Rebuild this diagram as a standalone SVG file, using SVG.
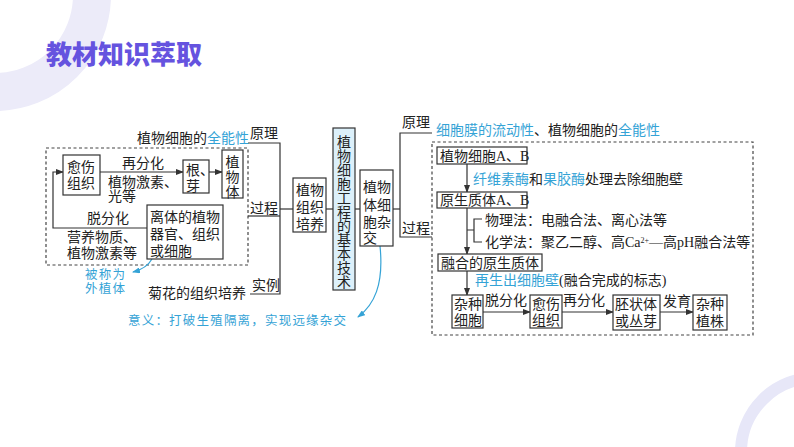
<svg xmlns="http://www.w3.org/2000/svg" width="794" height="447" viewBox="0 0 794 447">
<style>
text{font-family:"Liberation Serif","Noto Sans CJK SC",serif;font-size:14px;fill:#222}
.c{fill:#35a3d6}
.t{font-family:"Noto Sans CJK SC",sans-serif;font-size:26px;font-weight:900;fill:#6553df}
.n{fill:#fff;stroke:#333;stroke-width:1.2}
.ln{fill:none;stroke:#333;stroke-width:1.2}
.ds{fill:none;stroke:#444;stroke-width:1.2;stroke-dasharray:3 2.5}
.cy{fill:none;stroke:#35a3d6;stroke-width:1.2}
.sm{font-size:12.5px;letter-spacing:1.2px}
</style>
<defs>
<marker id="a" markerWidth="8" markerHeight="6" refX="7" refY="3" orient="auto" markerUnits="userSpaceOnUse"><path d="M0,0 L8,3 L0,6 Z" fill="#333"/></marker>
<marker id="ac" markerWidth="8" markerHeight="6" refX="7" refY="3" orient="auto" markerUnits="userSpaceOnUse"><path d="M0,0 L8,3 L0,6 Z" fill="#35a3d6"/></marker>
</defs>
<rect width="794" height="447" fill="#fff"/>
<circle cx="-5" cy="-5" r="97" fill="none" stroke="#ecebf9" stroke-width="38"/>
<circle cx="815" cy="452" r="74" fill="none" stroke="#e7e7f8" stroke-width="12"/>
<text class="t" x="46" y="64">教材知识萃取</text>

<g id="connectors">
<rect class="ds" x="46" y="148" width="202" height="117"/>
<rect class="ds" x="432" y="142" width="321" height="193"/>
<path class="ln" d="M248,143 H280 V294 H250"/>
<path class="ln" d="M248,216 H280"/>
<path class="ln" d="M280,209 H293"/>
<path class="ln" d="M326,209 H334"/>
<path class="ln" d="M355,209 H360"/>
<path class="ln" d="M393,209 H400"/>
<path class="ln" d="M432,133 H400 V237 H432"/>
<path class="ln" d="M100,172 H183" marker-end="url(#a)"/>
<path class="ln" d="M209,172 H222" marker-end="url(#a)"/>
<path class="ln" d="M147,228 H53 V172 H63" marker-end="url(#a)"/>
<path class="ln" d="M467,164 V192" marker-end="url(#a)"/>
<path class="ln" d="M467,208 V254" marker-end="url(#a)"/>
<path class="ln" d="M467,230 H474 M482,219 H474 V242 H482"/>
<path class="ln" d="M467,271 V295" marker-end="url(#a)"/>
<path class="ln" d="M483,312 H530" marker-end="url(#a)"/>
<path class="ln" d="M562,312 H613" marker-end="url(#a)"/>
<path class="ln" d="M660,312 H693" marker-end="url(#a)"/>
<path class="cy" d="M380,246 C384,285 374,305 358,317" marker-end="url(#ac)"/>
<path class="cy" d="M152,259 C148,266 141,270 133,272" marker-end="url(#ac)"/>
</g>

<g id="labels-left">
<text x="137" y="143">植物细胞的<tspan class="c">全能性</tspan></text>
<text x="250" y="138">原理</text>
<text x="250" y="213">过程</text>
<text x="252" y="290">实例</text>
<text x="148" y="298">菊花的组织培养</text>
<text x="108" y="168" dx="14">再分化</text>
<text x="108" y="187">植物激素、</text>
<text x="108" y="201">光等</text>
<text x="87" y="223">脱分化</text>
<text x="67" y="242">营养物质、</text>
<text x="67" y="258">植物激素等</text>
<text class="c sm" x="85" y="279">被称为</text>
<text class="c sm" x="85" y="293">外植体</text>
<text class="c sm" x="128" y="325">意义：打破生殖隔离，实现远缘杂交</text>
</g>

<g id="n-yushang1"><rect class="n" x="63" y="155" width="37" height="40"/><text x="67" y="172">愈伤</text><text x="67" y="188">组织</text></g>
<g id="n-genya"><rect class="n" x="183" y="160" width="26" height="33"/><text x="186" y="175">根、</text><text x="186" y="191">芽</text></g>
<g id="n-zhiwuti"><rect class="n" x="222" y="150" width="21" height="48"/><text x="232.5" y="167" text-anchor="middle">植</text><text x="232.5" y="182" text-anchor="middle">物</text><text x="232.5" y="197" text-anchor="middle">体</text></g>
<g id="n-liti"><rect class="n" x="147" y="205" width="76" height="54"/><text x="150" y="222">离体的植物</text><text x="150" y="239">器官、组织</text><text x="150" y="256">或细胞</text></g>
<g id="n-zuzhipeiyang"><rect class="n" x="293" y="178" width="33" height="54"/><text x="296" y="195">植物</text><text x="296" y="212">组织</text><text x="296" y="229">培养</text></g>
<g id="n-center"><rect x="333" y="128" width="22" height="162" fill="#dcf0fa" stroke="#333" stroke-width="1.2"/>
<text x="344" y="147" text-anchor="middle"><tspan x="344">植</tspan><tspan x="344" dy="14">物</tspan><tspan x="344" dy="14">细</tspan><tspan x="344" dy="14">胞</tspan><tspan x="344" dy="14">工</tspan><tspan x="344" dy="14">程</tspan><tspan x="344" dy="14">的</tspan><tspan x="344" dy="14">基</tspan><tspan x="344" dy="14">本</tspan><tspan x="344" dy="14">技</tspan><tspan x="344" dy="14">术</tspan></text></g>
<g id="n-zajiao"><rect class="n" x="360" y="170" width="33" height="76"/><text x="363" y="192">植物</text><text x="363" y="210">体细</text><text x="363" y="227">胞杂</text><text x="363" y="243">交</text></g>

<g id="labels-right">
<text x="402" y="127">原理</text>
<text x="402" y="233">过程</text>
<text x="436" y="135"><tspan class="c">细胞膜的流动性</tspan>、植物细胞的<tspan class="c">全能性</tspan></text>
<text x="473" y="184"><tspan class="c">纤维素酶</tspan>和<tspan class="c">果胶酶</tspan>处理去除细胞壁</text>
<text x="485" y="225">物理法：电融合法、离心法等</text>
<text x="485" y="247">化学法：聚乙二醇、高Ca<tspan font-size="8" baseline-shift="super">2+</tspan>—高pH融合法等</text>
<text x="475" y="285"><tspan class="c">再生出细胞壁</tspan>(融合完成的标志)</text>
<text x="485" y="305">脱分化</text>
<text x="563" y="305">再分化</text>
<text x="663" y="306">发育</text>
</g>

<g id="n-cellAB"><rect class="n" x="437" y="147" width="90" height="17"/><text x="440" y="161">植物细胞A、B</text></g>
<g id="n-protoAB"><rect class="n" x="437" y="192" width="90" height="16"/><text x="440" y="205">原生质体A、B</text></g>
<g id="n-fused"><rect class="n" x="438" y="254" width="104" height="17"/><text x="441" y="268">融合的原生质体</text></g>
<g id="n-hybridcell"><rect class="n" x="452" y="295" width="31" height="33"/><text x="454" y="309">杂种</text><text x="454" y="325">细胞</text></g>
<g id="n-yushang2"><rect class="n" x="530" y="295" width="32" height="33"/><text x="532" y="309">愈伤</text><text x="532" y="325">组织</text></g>
<g id="n-peizhuang"><rect class="n" x="613" y="295" width="47" height="35"/><text x="615" y="309">胚状体</text><text x="615" y="326">或丛芽</text></g>
<g id="n-hybridplant"><rect class="n" x="693" y="295" width="34" height="35"/><text x="696" y="309">杂种</text><text x="696" y="326">植株</text></g>
</svg>
